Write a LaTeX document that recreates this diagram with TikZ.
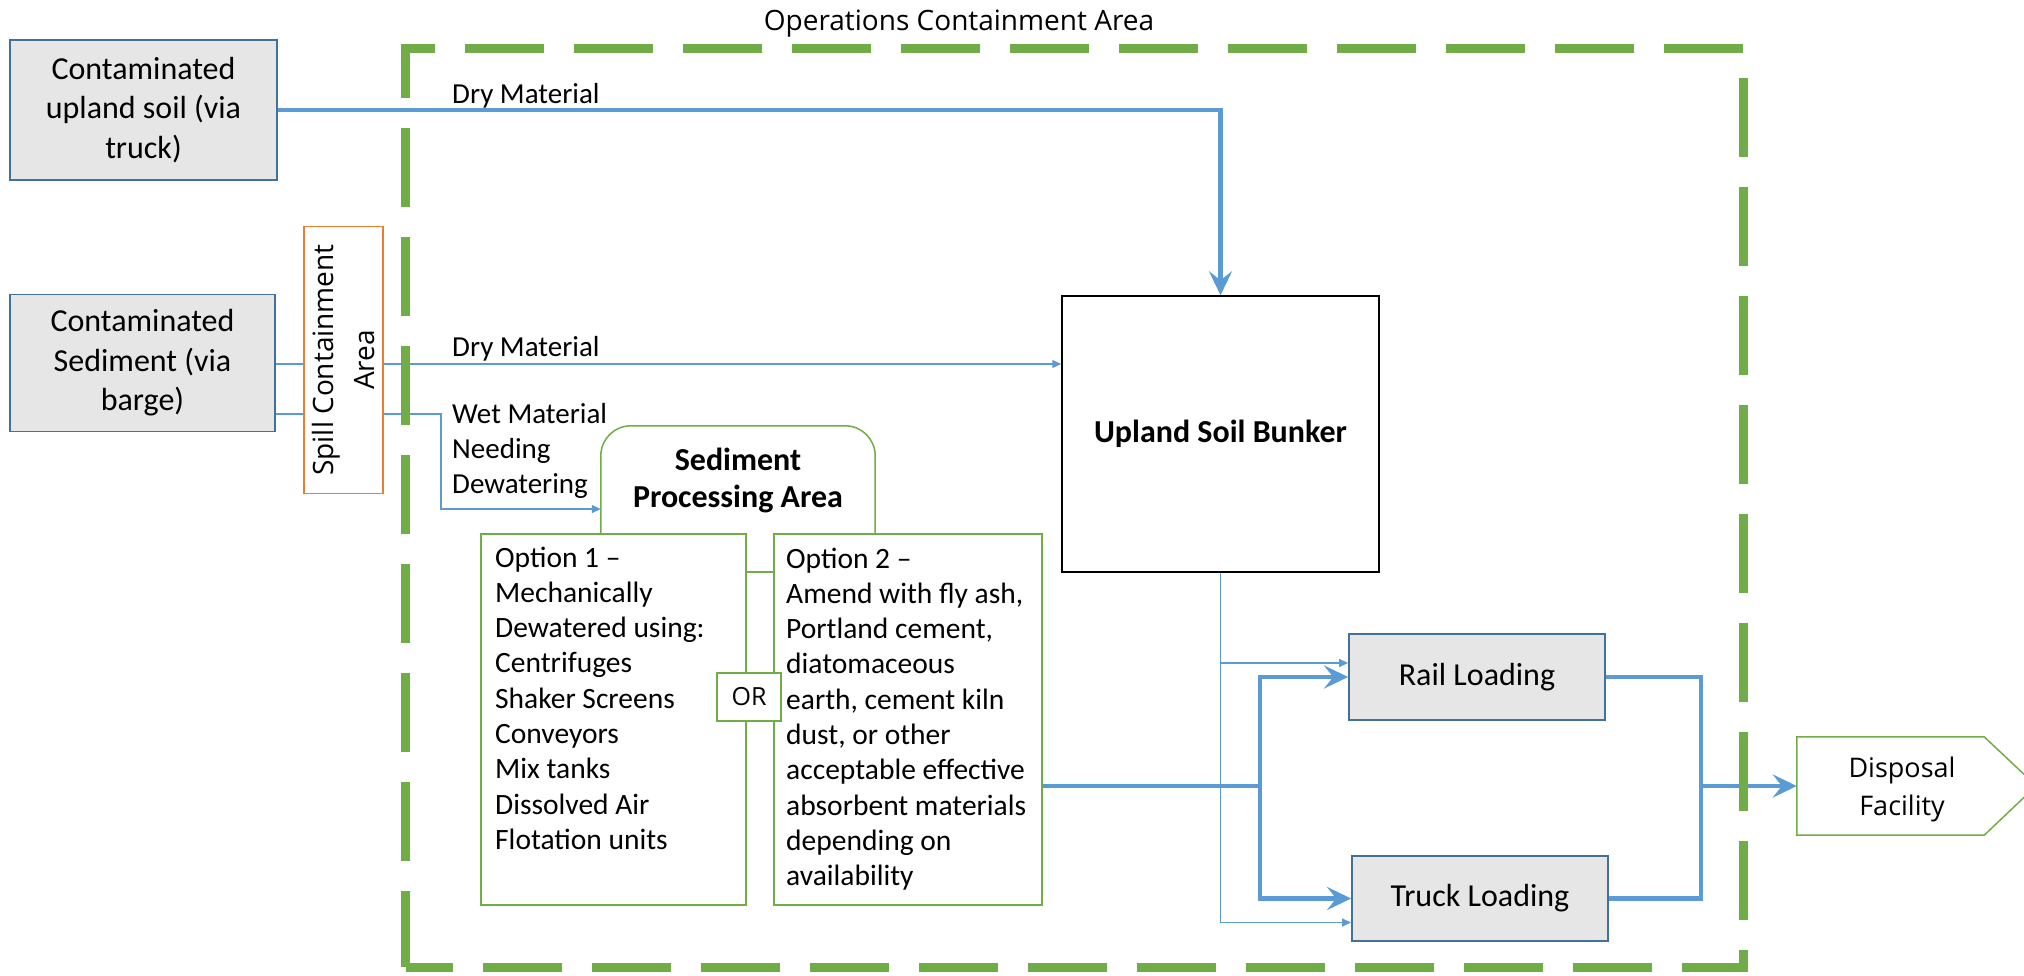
\documentclass[tikz,border=0pt]{standalone}
\usepackage{fontspec}
\setmainfont{Carlito}
\newfontfamily\segoe{Open Sans}
\usetikzlibrary{arrows.meta}
\definecolor{lineblue}{HTML}{5B9BD5}
\definecolor{boxblue}{HTML}{41719C}
\definecolor{boxfill}{HTML}{E7E6E6}
\definecolor{grn}{HTML}{70AD47}
\definecolor{orng}{HTML}{ED7D31}
\tikzset{
  graybox/.style={draw=boxblue, fill=boxfill, line width=1.8pt, inner sep=0pt, align=center, font=\fontsize{32}{39.5}\selectfont},
  greenbox/.style={draw=grn, line width=1.5pt, inner sep=0pt},
  lbl/.style={inner sep=0pt, align=left, font=\fontsize{29}{35}\selectfont},
  opttext/.style={inner sep=0pt, align=left, font=\fontsize{29.5}{35.3}\selectfont},
  thickline/.style={draw=lineblue, line width=4.5pt},
  thickarrow/.style={thickline, -{Stealth[length=24pt,width=23pt,inset=9pt]}},
  thinline/.style={draw=lineblue, line width=1.3pt},
  thinarrow/.style={thinline, -{Triangle[length=9pt,width=8pt]}},
  greenline/.style={draw=grn, line width=1.5pt}
}
\begin{document}
\begin{tikzpicture}[x=1pt,y=-1pt]
\useasboundingbox (0,0) rectangle (2024,975);

% title
\node[inner sep=0pt, anchor=base, font=\segoe\fontsize{28}{34}\selectfont] (title) at (959,30) {Operations Containment Area};

% source boxes
\node[graybox, minimum width=267, minimum height=140] (upland) at (143.5,110) {Contaminated\\upland soil (via\\truck)};
\node[graybox, minimum width=265, minimum height=137] (sed) at (142.5,363) {Contaminated\\Sediment (via\\barge)};

% spill containment
\node[draw=orng, line width=1.5pt, minimum width=79, minimum height=267, inner sep=0pt] (spill) at (343.5,360) {};
\node[rotate=90, align=center, inner sep=0pt, font=\segoe\fontsize{28}{41}\selectfont] (spilltext) at (spill.center) {Spill Containment\\Area};

% bunker
\node[draw=black, line width=1.5pt, minimum width=317, minimum height=276, inner sep=0pt, font=\bfseries\fontsize{32}{39}\selectfont] (bunker) at (1220.5,434) {Upland Soil Bunker};

% sediment processing area
\node[minimum width=274, minimum height=108, inner sep=0pt, align=center, font=\bfseries\fontsize{32}{37}\selectfont] (spa) at (738,480) {Sediment\\Processing Area};
\draw[greenline, rounded corners=30pt] (spa.south west) -- (spa.north west) -- (spa.north east) -- (spa.south east);

% options
\node[greenbox, minimum width=265, minimum height=371] (opt1) at (613.5,719.5) {};
\node[greenbox, minimum width=268, minimum height=371] (opt2) at (908,719.5) {};
\node[opttext, anchor=base west] (opt1text) at (495,849.4) {Option 1 –\\Mechanically\\Dewatered using:\\Centrifuges\\Shaker Screens\\Conveyors\\Mix tanks\\Dissolved Air\\Flotation units};
\node[opttext, anchor=base west] (opt2text) at (786,885.7) {Option 2 –\\Amend with fly ash,\\Portland cement,\\diatomaceous\\earth, cement kiln\\dust, or other\\acceptable effective\\absorbent materials\\depending on\\availability};
\coordinate (orlink) at (0,572);
\draw[greenline] (opt1.east |- orlink) -- (opt2.west |- orlink);
\node[greenbox, fill=white, minimum width=64, minimum height=48, font=\segoe\fontsize{25}{30}\selectfont] (or) at (749,697) {OR};

% loading
\node[graybox, minimum width=256, minimum height=86] (rail) at (1477,677) {Rail Loading};
\node[graybox, minimum width=256, minimum height=85] (truck) at (1480,898.5) {Truck Loading};

% disposal
\node[minimum width=187, minimum height=98, inner sep=0pt] (disp) at (1890.5,786) {};
\draw[greenline] (disp.north west) -- (disp.north east) -- ++(52,49) -- (disp.south east) -- (disp.south west) -- cycle;
\node[align=center, inner sep=0pt, font=\segoe\fontsize{27}{38}\selectfont] (disptext) at (1902,789) {Disposal\\Facility};

% labels
\node[lbl, anchor=base west] (dry1) at (452,103) {Dry Material};
\node[lbl, anchor=base west] (dry2) at (452,356) {Dry Material};
\node[lbl, anchor=base west] (wet) at (452,493) {Wet Material\\Needing\\Dewatering};

% connectors
\draw[thickarrow] (upland.east) -| (bunker.north);
\coordinate (dryy) at (0,364);
\coordinate (wety) at (0,414);
\draw[thinline] (sed.east |- dryy) -- (spill.west |- dryy);
\draw[thinarrow] (spill.east |- dryy) -- (bunker.west |- dryy);
\draw[thinline] (sed.east |- wety) -- (spill.west |- wety);
\coordinate (wetturn) at (441,509);
\draw[thinarrow] (spill.east |- wety) -| (wetturn) -- (spa.west |- wetturn);

\draw[thinarrow] (bunker.south) |- ([yshift=14pt]rail.west);
\draw[thinarrow] (bunker.south) |- ([yshift=-24pt]truck.west);

\coordinate (j1) at (1260,786);
\draw[thickarrow] (opt2.east |- j1) -- (j1) |- (rail.west);
\draw[thickarrow] (j1) |- (truck.west);
\coordinate (j2) at (1701,786);
\draw[thickline] (rail.east) -| (j2);
\draw[thickline] (truck.east) -| (j2);
\draw[thickarrow] (j2) -- (disp.west);

% operations containment area
\draw[draw=grn, line width=9pt, dash pattern=on 79pt off 30pt, dash phase=3pt] (405.5,967) -- (405.5,48) -- (1743,48) -- (1743,967) -- cycle;
\end{tikzpicture}
\end{document}
